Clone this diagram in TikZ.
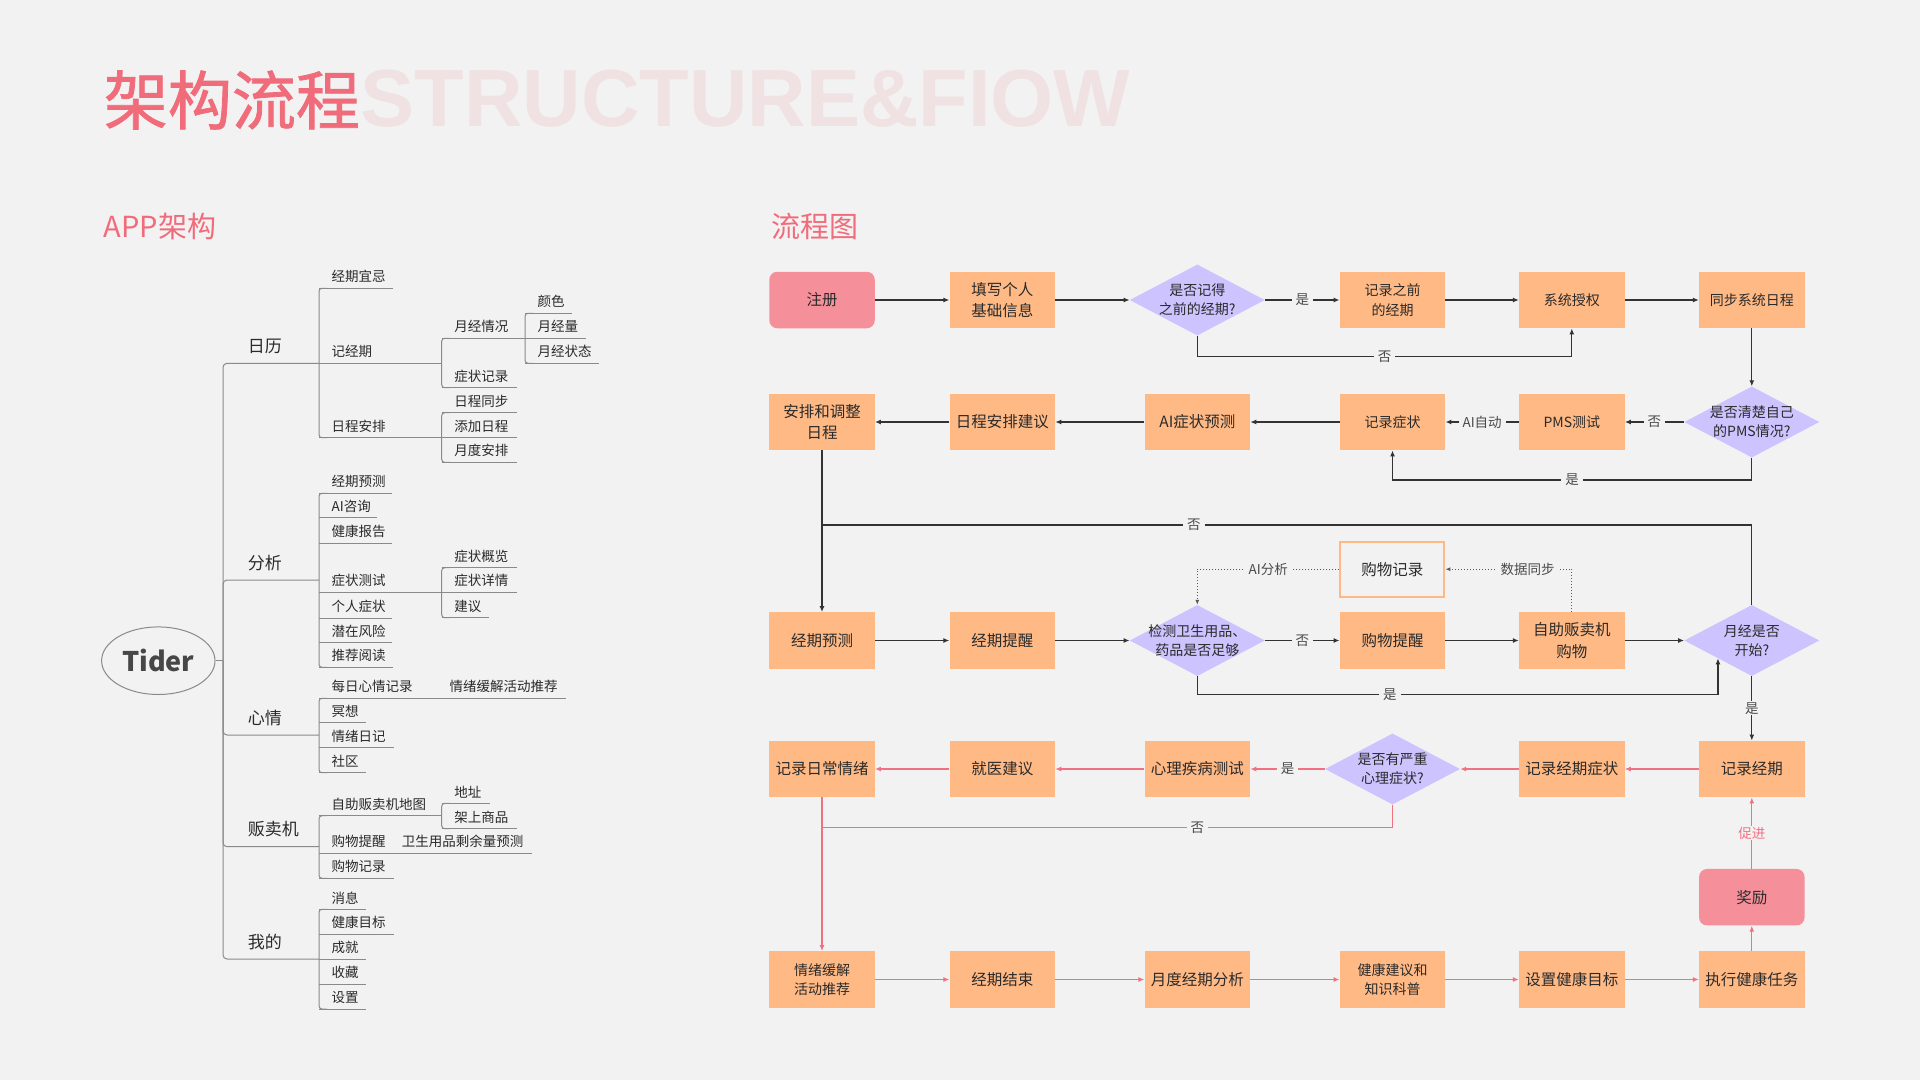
\documentclass[tikz,border=0pt]{standalone}
\usepackage{fontspec}
\setmainfont{Noto Sans CJK SC}
\newfontfamily\wmfont{Liberation Sans}
\newfontfamily\ttlfont[FakeBold=1.2]{Noto Sans CJK SC}
\usetikzlibrary{arrows.meta,shapes.geometric}
\definecolor{bg}{HTML}{F2F2F2}
\definecolor{ora}{HTML}{FFB985}
\definecolor{pbox}{HTML}{F5909A}
\definecolor{lav}{HTML}{CCC3FF}
\definecolor{tpink}{HTML}{F06C7B}
\definecolor{wm}{HTML}{F0E1E2}
\definecolor{lpink}{HTML}{F07282}
\definecolor{txt}{HTML}{2A2A2A}
\definecolor{blk}{HTML}{333333}
\definecolor{treec}{HTML}{8A8A8A}
\newcommand\fs[2]{\fontsize{#1}{#2}\selectfont}
\newcommand\tleaf[5]{%
  \node[leaf] (#1) at ({#2+12.5},{#3-11.5}) {#5};
  \draw[tline] (#2,#3) -- (#4,#3);}
\newcommand\tgroup[3]{%
  \draw[tline, rounded corners=3pt] ({#1+8},#2) -- (#1,#2) -- (#1,#3) -- ({#1+8},#3);}
\begin{document}
\begin{tikzpicture}[x=1pt,y=-1pt,
  every node/.style={text=txt},
  leaf/.style={anchor=west, inner sep=0pt, font=\fs{13.5}{16}},
  branch/.style={anchor=west, inner sep=0pt, font=\fs{17}{20}},
  tline/.style={draw=treec, line width=1pt},
  fbox/.style={rectangle, fill=ora, minimum width=105.5pt, minimum height=56.5pt, inner sep=0pt, align=center, font=\fs{15.5}{21.5}},
  fsm/.style={fbox, font=\fs{14}{19.5}},
  startbox/.style={fbox, fill=pbox, rounded corners=8pt},
  dec/.style={diamond, fill=lav, minimum width=135pt, minimum height=71pt, inner sep=0pt},
  dtext/.style={align=center, font=\fs{14}{19}, inner sep=0pt, text=txt},
  lbl/.style={fill=bg, inner xsep=4pt, inner ysep=1pt, font=\fs{13.5}{16}, text=txt!85},
  arr/.style={draw=blk, line width=1.3pt, -{Latex[length=6pt,width=5pt]}},
  bline/.style={draw=blk, line width=1.3pt},
  parr/.style={draw=lpink, line width=1.3pt, -{Latex[length=6pt,width=5pt]}},
  pline/.style={draw=lpink, line width=1.3pt},
  dotarr/.style={draw=black!65, line width=1pt, dotted, -{Latex[length=5pt,width=4pt]}}]
\fill[bg] (0,0) rectangle (1920,1080);
\useasboundingbox (0,0) rectangle (1920,1080);

% titles
\node[anchor=west, inner sep=0pt, font=\wmfont\bfseries\fs{81}{81}, text=wm] (wmk) at (360.6,98.3) {STRUCTURE\&FIOW};
\node[anchor=west, inner sep=0pt, font=\ttlfont\fs{64}{64}, text=tpink] (title) at (103.7,100) {架构流程};
\node[anchor=west, inner sep=0pt, font=\fs{29}{29}, text=tpink] (h1) at (103.7,226) {APP架构};
\node[anchor=west, inner sep=0pt, font=\fs{29}{29}, text=tpink] (h2) at (771,226) {流程图};

% ---------------- tree ----------------
\node[ellipse, draw=treec, line width=1pt, minimum width=113.4pt, minimum height=67.6pt, inner sep=0pt, font=\bfseries\fs{27}{27}, text=black!72] (tider) at (158.3,660.7) {Tider};
\draw[tline] (tider.east) -- (223,660.7);
\foreach \yy in {363.3,580,735,846.7,959}{
  \draw[tline, rounded corners=4pt] (223,660.7) -- (223,\yy) -- (319,\yy);}

% 日历
\node[branch] (b1) at (247.7,346) {日历};
\tgroup{319}{288.3}{437.7}
\tleaf{l11}{319}{288.3}{393}{经期宜忌}
\tleaf{l12}{319}{363.3}{441.7}{记经期}
\tleaf{l13}{319}{437.7}{441.7}{日程安排}
\tgroup{441.7}{338.3}{387.7}
\tleaf{l121}{441.7}{338.3}{525}{月经情况}
\tleaf{l122}{441.7}{387.7}{516.7}{症状记录}
\tgroup{525}{313.3}{363.3}
\tleaf{l1211}{525}{313.3}{572.3}{颜色}
\tleaf{l1212}{525}{338.3}{585.7}{月经量}
\tleaf{l1213}{525}{363.3}{599}{月经状态}
\tgroup{441.7}{412.7}{462.3}
\tleaf{l131}{441.7}{412.7}{516.7}{日程同步}
\tleaf{l132}{441.7}{437.7}{516.7}{添加日程}
\tleaf{l133}{441.7}{462.3}{516.7}{月度安排}

% 分析
\node[branch] (b2) at (247.7,563.3) {分析};
\tgroup{319}{493.3}{667.3}
\tleaf{l21}{319}{493.3}{391.7}{经期预测}
\tleaf{l22}{319}{517.7}{376.7}{AI咨询}
\tleaf{l23}{319}{543.3}{391.7}{健康报告}
\tleaf{l24}{319}{592.3}{441.7}{症状测试}
\tleaf{l25}{319}{618.3}{391.7}{个人症状}
\tleaf{l26}{319}{642.7}{391.7}{潜在风险}
\tleaf{l27}{319}{667.3}{393}{推荐阅读}
\tgroup{441.7}{567.7}{617.7}
\tleaf{l241}{441.7}{567.7}{516.7}{症状概览}
\tleaf{l242}{441.7}{592.3}{516.7}{症状详情}
\tleaf{l243}{441.7}{617.7}{489}{建议}

% 心情
\node[branch] (b3) at (247.7,718.3) {心情};
\tgroup{319}{698.3}{772.7}
\tleaf{l31}{319}{698.3}{566}{每日心情记录}
\node[leaf] (l311) at (449.3,686.8) {情绪缓解活动推荐};
\tleaf{l32}{319}{722.7}{365.7}{冥想}
\tleaf{l33}{319}{747.7}{394}{情绪日记}
\tleaf{l34}{319}{772.7}{365.7}{社区}

% 贩卖机
\node[branch] (b4) at (247.7,829.3) {贩卖机};
\tgroup{319}{815.7}{878.3}
\tleaf{l41}{319}{815.7}{441.7}{自助贩卖机地图}
\tleaf{l42}{319}{853.3}{531.7}{购物提醒}
\node[leaf] (l421) at (401.7,841.8) {卫生用品剩余量预测};
\tleaf{l43}{319}{878.3}{394}{购物记录}
\tgroup{441.7}{803.3}{828.7}
\tleaf{l411}{441.7}{803.3}{490}{地址}
\tleaf{l412}{441.7}{828.7}{516.7}{架上商品}

% 我的
\node[branch] (b5) at (247.7,941.7) {我的};
\tgroup{319}{909.3}{1009}
\tleaf{l51}{319}{909.3}{365.7}{消息}
\tleaf{l52}{319}{934}{394}{健康目标}
\tleaf{l53}{319}{959}{365.7}{成就}
\tleaf{l54}{319}{984}{365.7}{收藏}
\tleaf{l55}{319}{1009}{365.7}{设置}

% ---------------- flowchart ----------------
% row 1
\node[startbox] (zc) at (822,300) {注册};
\node[fbox] (tx) at (1002.3,300) {填写个人\\基础信息};
\node[dec, label={[dtext]center:是否记得\\之前的经期?}] (d1) at (1197.3,300) {};
\node[fsm] (jl) at (1392.5,300) {记录之前\\的经期};
\node[fsm] (sq) at (1571.8,300) {系统授权};
\node[fsm] (tb) at (1751.8,300) {同步系统日程};
% row 2
\node[fbox] (ap) at (822,422) {安排和调整\\日程};
\node[fbox] (rc) at (1002.3,422) {日程安排建议};
\node[fbox] (ai) at (1197.3,422) {AI症状预测};
\node[fsm] (jz) at (1392.5,422) {记录症状};
\node[fsm] (pms) at (1571.8,422) {PMS测试};
\node[dec, label={[dtext]center:是否清楚自己\\的PMS情况?}] (d2) at (1751.8,422) {};
% row 3
\node[rectangle, draw=ora, line width=2pt, fill=bg, minimum width=104pt, minimum height=55pt, inner sep=0pt, font=\fs{15.5}{20}] (gj) at (1392.3,569.2) {购物记录};
\node[fbox] (yc) at (822,640.5) {经期预测};
\node[fbox] (tx2) at (1002.3,640.5) {经期提醒};
\node[dec, label={[dtext]center:检测卫生用品、\\药品是否足够}] (d3) at (1197.3,640.5) {};
\node[fbox] (gw) at (1392.5,640.5) {购物提醒};
\node[fbox] (vm) at (1571.8,640.5) {自助贩卖机\\购物};
\node[dec, label={[dtext]center:月经是否\\开始?}] (d4) at (1751.8,640.5) {};
% row 4
\node[fbox] (rq) at (822,769) {记录日常情绪};
\node[fbox] (jy) at (1002.3,769) {就医建议};
\node[fbox] (xl) at (1197.3,769) {心理疾病测试};
\node[dec, label={[dtext]center:是否有严重\\心理症状?}] (d5) at (1392.5,769) {};
\node[fbox] (jqz) at (1571.8,769) {记录经期症状};
\node[fbox] (jq) at (1751.8,769) {记录经期};
% row 5
\node[startbox] (jl2) at (1751.8,897.2) {奖励};
% row 6
\node[fsm] (hj) at (822,979.5) {情绪缓解\\活动推荐};
\node[fbox] (jj) at (1002.3,979.5) {经期结束};
\node[fbox] (yd) at (1197.3,979.5) {月度经期分析};
\node[fsm] (jk) at (1392.5,979.5) {健康建议和\\知识科普};
\node[fbox] (sz) at (1571.8,979.5) {设置健康目标};
\node[fbox] (zx) at (1751.8,979.5) {执行健康任务};

\coordinate (y1) at (0,356.7);
\coordinate (y2) at (0,480);
\coordinate (y3) at (0,525);
\coordinate (y4) at (0,694.3);
\coordinate (y5) at (0,569.2);
\coordinate (y6) at (0,827.3);

% row 1 edges
\draw[arr] (zc) -- (tx);
\draw[arr] (tx) -- (d1);
\draw[arr] (d1) -- node[lbl]{是} (jl);
\draw[arr] (jl) -- (sq);
\draw[arr] (sq) -- (tb);
\draw[arr] (d1.south) -- (d1.south |- y1) -- node[lbl]{否} (sq.south |- y1) -- (sq.south);
% row 2 edges
\draw[arr] (tb) -- (d2);
\draw[arr] (d2) -- node[lbl]{否} (pms);
\draw[arr] (pms) -- node[lbl]{AI自动} (jz);
\draw[arr] (d2.south) -- (d2.south |- y2) -- node[lbl]{是} (jz.south |- y2) -- (jz.south);
\draw[arr] (jz) -- (ai);
\draw[arr] (ai) -- (rc);
\draw[arr] (rc) -- (ap);
\draw[arr] (ap) -- (yc);
\draw[bline] (d4.north) -- (d4.north |- y3) -- node[lbl,pos=0.6]{否} (ap.south |- y3);
% row 3 edges
\draw[arr] (yc) -- (tx2);
\draw[arr] (tx2) -- (d3);
\draw[arr] (d3) -- node[lbl]{否} (gw);
\draw[arr] (gw) -- (vm);
\draw[arr] (vm) -- (d4);
\draw[arr] (d3.south) -- (d3.south |- y4) -- node[lbl,pos=0.37]{是} (d4.south west |- y4) -- (d4.south west);
\draw[dotarr] (vm.north) -- (vm.north |- y5) -- node[lbl,pos=0.35]{数据同步} (gj.east);
\draw[dotarr] (gj.west) -- node[lbl]{AI分析} (d3.north |- y5) -- (d3.north);
\draw[arr] (d4) -- node[lbl]{是} (jq);
% row 4 edges
\draw[parr] (jq) -- (jqz);
\draw[parr] (jqz) -- (d5);
\draw[parr] (d5) -- node[lbl]{是} (xl);
\draw[parr] (xl) -- (jy);
\draw[parr] (jy) -- (rq);
\draw[parr] (rq) -- (hj);
\draw[pline] (d5.south) -- (d5.south |- y6) -- node[lbl,pos=0.342]{否} (rq.south |- y6);
% row 6 edges
\draw[parr] (hj) -- (jj);
\draw[parr] (jj) -- (yd);
\draw[parr] (yd) -- (jk);
\draw[parr] (jk) -- (sz);
\draw[parr] (sz) -- (zx);
\draw[parr] (zx) -- (jl2);
\draw[parr] (jl2) -- node[lbl, text=lpink]{促进} (jq);
\end{tikzpicture}
\end{document}
